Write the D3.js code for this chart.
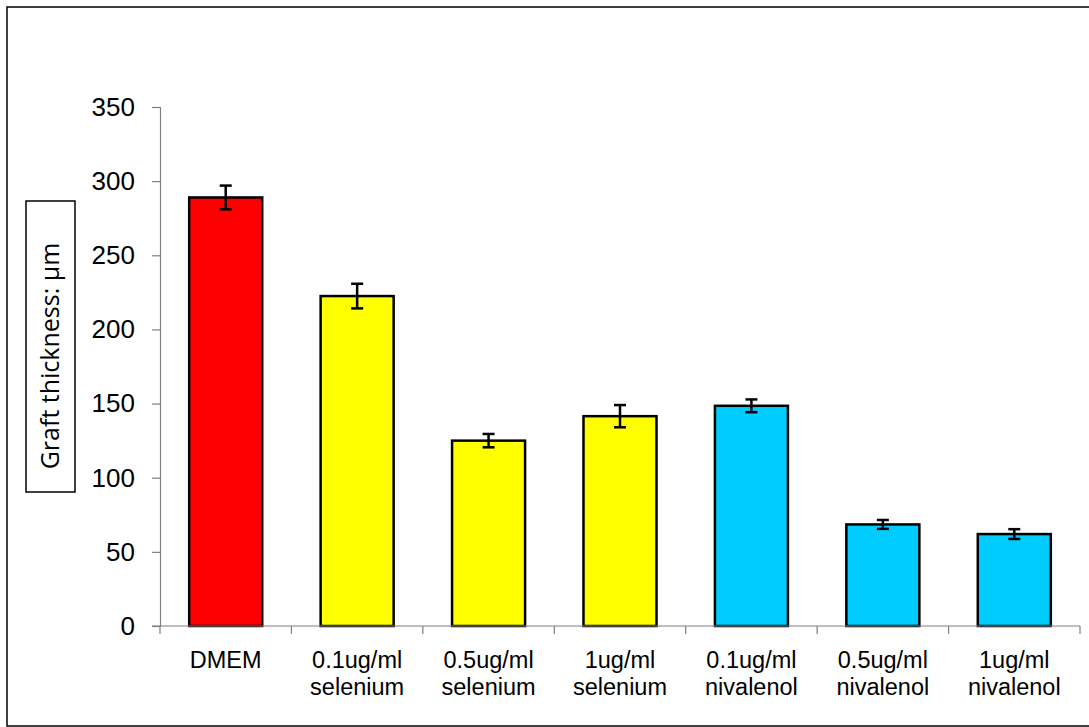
<!DOCTYPE html>
<html>
<head>
<meta charset="utf-8">
<script src="https://cdn.jsdelivr.net/npm/d3@7"></script>
<style>
  html, body { margin: 0; padding: 0; background: #fff; }
  svg { display: block; }
</style>
</head>
<body>
<svg id="chart" width="1089" height="727"></svg>
<script>
const categories = [
  ["DMEM"],
  ["0.1ug/ml", "selenium"],
  ["0.5ug/ml", "selenium"],
  ["1ug/ml", "selenium"],
  ["0.1ug/ml", "nivalenol"],
  ["0.5ug/ml", "nivalenol"],
  ["1ug/ml", "nivalenol"]
];
const values = [289, 222.5, 125, 141.5, 148.5, 68.5, 62];
const errors = [8, 8.3, 4.5, 7.5, 4.3, 3, 3.3];
const barColors = ["#ff0000", "#ffff00", "#ffff00", "#ffff00", "#00ccff", "#00ccff", "#00ccff"];
const yTicks = [0, 50, 100, 150, 200, 250, 300, 350];
const yLabel = "Graft thickness: µm";

const svg = d3.select("#chart");
const x0 = 160, x1 = 1080, yBase = 626, yTop = 107;

// outer chart border (right edge falls outside the picture)
svg.append("rect")
  .attr("x", 7).attr("y", 7).attr("width", 1100).attr("height", 719)
  .attr("fill", "none").attr("stroke", "#000").attr("stroke-width", 1.5);

const idx = categories.map((d, i) => i);
const x = d3.scaleBand().domain(idx).range([x0, x1]).padding(0);
const y = d3.scaleLinear().domain([0, 350]).range([yBase, yTop]);

const barW = x.bandwidth() / 1.8;

// bars
svg.append("g").selectAll("rect")
  .data(values)
  .join("rect")
  .attr("x", (d, i) => x(i) + (x.bandwidth() - barW) / 2)
  .attr("y", d => y(d))
  .attr("width", barW)
  .attr("height", d => y(0) - y(d))
  .attr("fill", (d, i) => barColors[i])
  .attr("stroke", "#000")
  .attr("stroke-width", 2.5);

// y axis
const yAxis = d3.axisLeft(y).tickValues(yTicks).tickSize(8).tickPadding(17).tickFormat(d3.format("d"));
const gy = svg.append("g").attr("transform", `translate(${x0},0)`).call(yAxis);
gy.select(".domain").attr("stroke", "#808080").attr("stroke-width", 1.2);
gy.selectAll(".tick line").attr("stroke", "#808080").attr("stroke-width", 1.2);
gy.selectAll(".tick text")
  .attr("font-family", "'Liberation Sans', Arial, sans-serif")
  .attr("font-size", 26).attr("fill", "#000");

// x axis baseline + category boundary ticks
svg.append("line")
  .attr("x1", x0 - 8).attr("x2", x1).attr("y1", yBase).attr("y2", yBase)
  .attr("stroke", "#808080").attr("stroke-width", 1.2);
const bounds = idx.map(i => x(i)).concat([x1]);
svg.append("g").selectAll("line")
  .data(bounds)
  .join("line")
  .attr("x1", d => d).attr("x2", d => d)
  .attr("y1", yBase).attr("y2", yBase + 8)
  .attr("stroke", "#808080").attr("stroke-width", 1.2);

// x labels
const xl = svg.append("g").selectAll("text")
  .data(categories)
  .join("text")
  .attr("x", (d, i) => x(i) + x.bandwidth() / 2)
  .attr("y", 668)
  .attr("text-anchor", "middle")
  .attr("font-family", "'Liberation Sans', Arial, sans-serif")
  .attr("font-size", 23.5)
  .attr("fill", "#000");
xl.selectAll("tspan")
  .data(d => d)
  .join("tspan")
  .attr("x", function () { return d3.select(this.parentNode).attr("x"); })
  .attr("dy", (d, j) => j === 0 ? 0 : 27)
  .text(d => d);

// error bars
const cap = 6;
const eg = svg.append("g").attr("stroke", "#000").attr("stroke-width", 2.5);
values.forEach((v, i) => {
  const cx = x(i) + x.bandwidth() / 2;
  eg.append("line").attr("x1", cx).attr("x2", cx).attr("y1", y(v + errors[i])).attr("y2", y(v - errors[i]));
  eg.append("line").attr("x1", cx - cap).attr("x2", cx + cap).attr("y1", y(v + errors[i])).attr("y2", y(v + errors[i]));
  eg.append("line").attr("x1", cx - cap).attr("x2", cx + cap).attr("y1", y(v - errors[i])).attr("y2", y(v - errors[i]));
});

// y label in box
svg.append("rect")
  .attr("x", 26).attr("y", 201).attr("width", 49).attr("height", 291)
  .attr("fill", "#fff").attr("stroke", "#000").attr("stroke-width", 1.5);
svg.append("text")
  .attr("transform", `translate(${59},${356}) rotate(-90)`)
  .attr("text-anchor", "middle")
  .attr("font-family", "'Open Sans', 'Noto Sans', sans-serif")
  .attr("font-size", 25)
  .attr("fill", "#000")
  .text(yLabel);
</script>
</body>
</html>
